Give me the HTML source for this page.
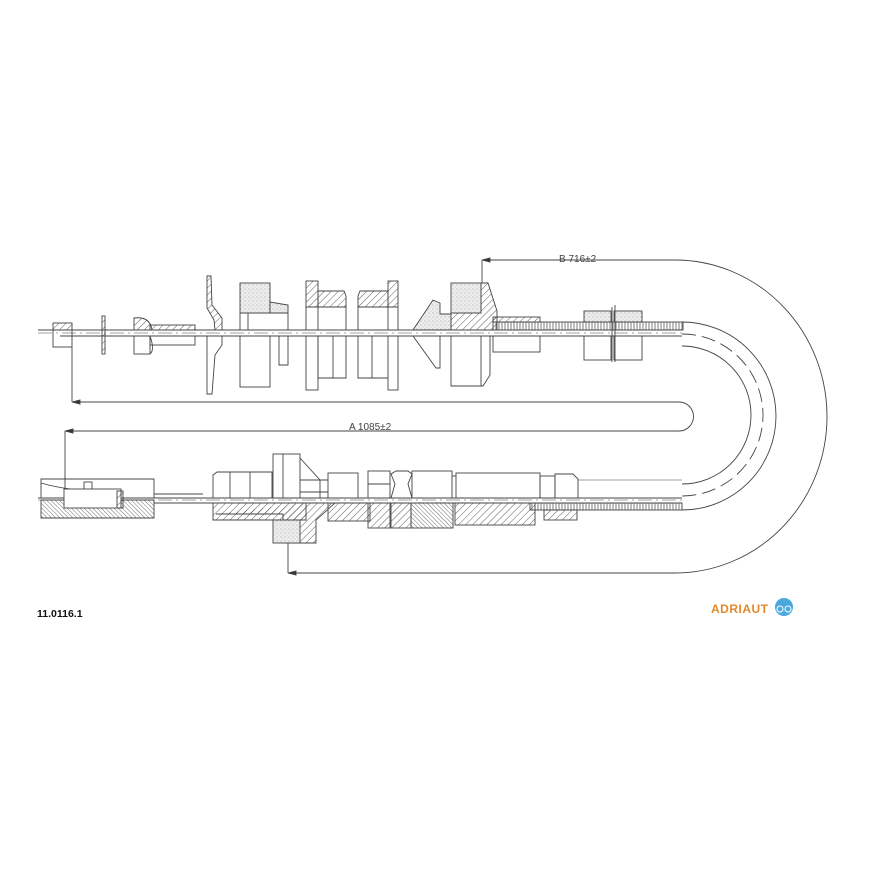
<!DOCTYPE html>
<html><head><meta charset="utf-8"><style>
html,body{margin:0;padding:0;background:#fff}
svg{display:block}
text{font-family:"Liberation Sans",sans-serif}
</style></head><body>
<svg width="870" height="870" viewBox="0 0 870 870" xmlns="http://www.w3.org/2000/svg">
<defs>
<pattern id="h" width="5" height="5" patternUnits="userSpaceOnUse" patternTransform="rotate(45)"><line x1="0" y1="0" x2="0" y2="5" stroke="#333" stroke-width="0.8"/></pattern>
<pattern id="h2" width="3" height="3" patternUnits="userSpaceOnUse" patternTransform="rotate(-45)"><line x1="0" y1="0" x2="0" y2="3" stroke="#333" stroke-width="0.7"/></pattern>
<pattern id="d" width="4" height="4" patternUnits="userSpaceOnUse"><rect width="4" height="4" fill="#eee"/><circle cx="1" cy="1" r="0.5" fill="#888"/><circle cx="3" cy="3" r="0.4" fill="#999"/></pattern>
<pattern id="t" width="3" height="4" patternUnits="userSpaceOnUse"><line x1="1" y1="0" x2="1" y2="4" stroke="#444" stroke-width="0.7"/></pattern>
</defs>
<g fill="none" stroke="#444" stroke-width="0.9">
<!-- top axis -->
<line x1="38" y1="330" x2="682" y2="330"/>
<line x1="60" y1="336" x2="682" y2="336"/>
<line x1="38" y1="333" x2="682" y2="333" stroke-dasharray="14,4,2,4" stroke-width="0.6"/>
<!-- left cap -->
<rect x="53" y="323" width="19" height="7" fill="url(#h)"/>
<rect x="53" y="330" width="19" height="17"/>
<rect x="102" y="316" width="3" height="38" fill="url(#h)"/>
<path d="M134 330 V318 Q150 316 152 330 Z" fill="url(#h)"/>
<rect x="150" y="325" width="45" height="5" fill="url(#h)"/>
<rect x="134" y="336" width="16" height="18"/>
<path d="M150 336 Q155 350 150 354"/>
<rect x="150" y="336" width="45" height="9"/>
<!-- bent plate -->
<path d="M207 276 L211 276 L212 305 L222 318 L222 330 L215 330 L214 320 L207 308 Z" fill="url(#h)"/>
<path d="M207 336 V394 H212 L215 355 L222 345 V336"/>
<!-- block -->
<rect x="240" y="283" width="30" height="30" fill="url(#d)"/>
<path d="M270 313 V302 L288 305 V313 Z" fill="url(#d)"/>
<rect x="240" y="313" width="48" height="17"/>
<line x1="248" y1="313" x2="248" y2="330"/>
<rect x="240" y="336" width="30" height="51"/>
<path d="M279 336 V365 H288 V336"/>
<!-- flanged pieces -->
<rect x="306" y="281" width="12" height="26" fill="url(#h)"/>
<path d="M318 291 H344 L346 296 V307 H318 Z" fill="url(#h)"/>
<rect x="306" y="307" width="40" height="23"/>
<line x1="318" y1="307" x2="318" y2="330"/>
<rect x="306" y="336" width="12" height="54"/>
<path d="M318 336 V378 H346 V336"/><line x1="333" y1="336" x2="333" y2="378"/>
<rect x="388" y="281" width="10" height="26" fill="url(#h)"/>
<path d="M388 291 H360 L358 296 V307 H388 Z" fill="url(#h)"/>
<rect x="358" y="307" width="40" height="23"/>
<line x1="388" y1="307" x2="388" y2="330"/>
<rect x="388" y="336" width="10" height="54"/>
<path d="M358 336 V378 H388"/><line x1="372" y1="336" x2="372" y2="378"/>
<!-- cone piece -->
<path d="M413 330 L433 300 L440 303 L440 314 H451 V330 Z" fill="url(#d)"/>
<rect x="451" y="283" width="30" height="30" fill="url(#d)"/>
<path d="M481 283 L488 283 L497 311 V330 H451 V313 H481 Z" fill="url(#h)"/>
<path d="M413 336 L436 368 H440 V336"/>
<path d="M451 336 V386 H483 L490 375 V336"/><line x1="481" y1="336" x2="481" y2="386"/>
<!-- tube -->
<rect x="493" y="317" width="47" height="5" fill="url(#h)"/>
<rect x="493" y="322" width="190" height="8" fill="url(#t)"/>
<rect x="493" y="336" width="47" height="16"/>
<rect x="584" y="311" width="27" height="11" fill="url(#d)"/>
<rect x="614" y="311" width="28" height="11" fill="url(#d)"/>
<rect x="584" y="336" width="27" height="24"/>
<rect x="614" y="336" width="28" height="24"/>
<line x1="612" y1="307" x2="612" y2="362"/><line x1="615" y1="305" x2="615" y2="362"/>
<!-- bend -->
<path d="M682 322 A94 94 0 0 1 682 510"/>
<path d="M682 346 A69 69 0 0 1 682 484"/>
<path d="M682 334 A81 81 0 0 1 682 496" stroke-dasharray="14,6"/>
<!-- dimension B -->
<line x1="482" y1="260" x2="675" y2="260"/>
<line x1="482" y1="260" x2="482" y2="283"/>
<path d="M482 260 l8 -2 v4 Z" fill="#333"/>
<path d="M675 260 A152 156.5 0 0 1 675 573"/>
<line x1="288" y1="573" x2="675" y2="573"/>
<line x1="288" y1="543" x2="288" y2="573"/>
<path d="M288 573 l8 -2 v4 Z" fill="#333"/>
<!-- dimension A slot -->
<line x1="72" y1="402" x2="679" y2="402"/>
<path d="M679 402 A14.5 14.5 0 0 1 679 431"/>
<line x1="65" y1="431" x2="679" y2="431"/>
<line x1="72" y1="347" x2="72" y2="402"/>
<path d="M72 402 l8 -2 v4 Z" fill="#333"/>
<line x1="65" y1="431" x2="65" y2="490"/>
<path d="M65 431 l8 -2 v4 Z" fill="#333"/>
<!-- bottom axis -->
<line x1="38" y1="498" x2="682" y2="498"/>
<line x1="154" y1="503" x2="682" y2="503"/>
<line x1="38" y1="500" x2="682" y2="500" stroke-dasharray="14,4,2,4" stroke-width="0.6"/>
<!-- left box -->
<path d="M41 479 H154 V498 H41 Z"/>
<path d="M41 483 Q55 487 70 489"/>
<rect x="84" y="482" width="8" height="8"/>
<path d="M41 500 H154 V518 H41 Z" fill="url(#h2)"/>
<rect x="64" y="489" width="57" height="19" fill="#fff"/>
<rect x="117" y="491" width="6" height="17" fill="url(#h)"/>
<!-- bottom parts -->
<path d="M213 498 V475 L217 472 H272 V498"/>
<line x1="230" y1="472" x2="230" y2="498"/><line x1="250" y1="472" x2="250" y2="498"/>
<rect x="273" y="454" width="27" height="44"/><line x1="283" y1="454" x2="283" y2="498"/>
<path d="M300 458 L320 480 V498 M300 480 H328 M300 492 H328"/>
<rect x="328" y="473" width="30" height="25"/>
<rect x="368" y="471" width="22" height="27"/><line x1="368" y1="484" x2="390" y2="484"/>
<path d="M391 498 L395 484 L391 474 L396 471 H408 L412 474 L408 484 L412 498"/>
<rect x="412" y="471" width="40" height="27"/>
<line x1="452" y1="476" x2="456" y2="476"/>
<rect x="456" y="473" width="84" height="25"/>
<rect x="540" y="476" width="15" height="22"/>
<path d="M555 498 V474 H573 L578 479 V498"/>
<line x1="578" y1="480" x2="682" y2="480" stroke-width="0.6"/>
<!-- lower hatched -->
<path d="M213 503 H306 V520 H213 Z" fill="url(#h)"/>
<path d="M216 514 H283 V543 H316 V520 L335 503 H306" fill="url(#h)"/>
<rect x="273" y="520" width="27" height="23" fill="url(#d)"/>
<rect x="328" y="503" width="42" height="18" fill="url(#h)"/>
<rect x="368" y="503" width="22" height="25" fill="url(#h)"/>
<rect x="391" y="503" width="20" height="25" fill="url(#h)"/>
<rect x="411" y="503" width="42" height="25" fill="url(#h2)"/>
<rect x="455" y="503" width="80" height="22" fill="url(#h)"/>
<rect x="530" y="503" width="152" height="7" fill="url(#t)"/>
<rect x="544" y="510" width="33" height="10" fill="url(#h)"/>
<line x1="154" y1="494" x2="203" y2="494"/>
</g>
<text x="559" y="262" font-size="10" fill="#444">B  716±2</text>
<text x="349" y="430" font-size="10" fill="#444">A  1085±2</text>
<text x="37" y="617" font-size="10.5" font-weight="bold" fill="#111">11.0116.1</text>
<text x="711" y="613" font-size="12" font-weight="bold" fill="#e08a2a" letter-spacing="0.5">ADRIAUT</text>
<circle cx="784" cy="607" r="9" fill="#4aa8dc"/>
<circle cx="780" cy="609" r="3" fill="none" stroke="#fff" stroke-width="1"/>
<circle cx="788" cy="609" r="3" fill="none" stroke="#fff" stroke-width="1"/>
</svg>
</body></html>
